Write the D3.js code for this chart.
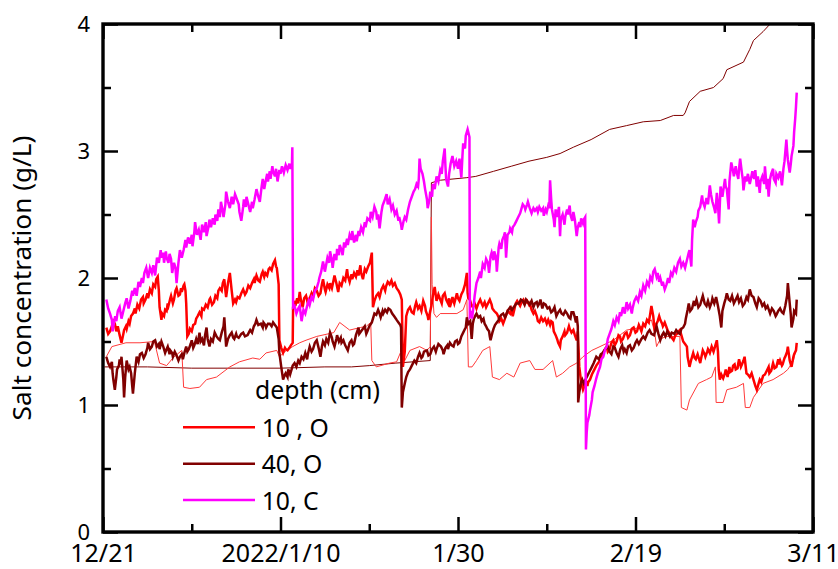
<!DOCTYPE html>
<html>
<head>
<meta charset="utf-8">
<script src="https://cdn.jsdelivr.net/npm/d3@7"></script>
<style>
  body { margin: 0; background: #fff; }
  text { font-family: "Noto Sans", sans-serif; fill: #000; }
</style>
</head>
<body>
<svg id="chart" width="838" height="569"></svg>
<script>
// days counted from 2021/12/21
const startDate = new Date(2021, 11, 21);
const xMajorDays = [0, 20, 40, 60, 80];
const xMajorLabels = ['12/21', '2022/1/10', '1/30', '2/19', '3/11'];
const xMinorDays = [10, 30, 50, 70];
const yMajor = [0, 1, 2, 3, 4];
const yMinor = [0.5, 1.5, 2.5, 3.5];

const legendNames = ['10 , O', '40, O', '10, C'];
const legendColors = ['#ff0000', '#800000', '#ff00ff'];

// 10 cm, C  [day, g/L]
const c10 = [[0.4,1.83],[0.6,1.76],[0.8,1.72],[1.0,1.67],[1.1,1.58],[1.2,1.62],[1.4,1.70],[1.5,1.66],[1.7,1.74],[1.9,1.77],[2.1,1.68],[2.3,1.74],[2.5,1.80],[2.7,1.84],[2.9,1.76],[3.1,1.82],[3.3,1.90],[3.4,1.86],[3.6,1.92],[3.8,1.86],[4.0,1.97],[4.2,1.93],[4.4,2.00],[4.5,1.96],[4.7,2.04],[4.9,2.08],[5.1,2.00],[5.3,2.08],[5.5,2.04],[5.7,2.10],[5.9,2.02],[6.1,2.16],[6.3,2.12],[6.5,2.22],[6.6,2.16],[6.8,2.20],[6.9,2.12],[7.1,2.21],[7.2,2.16],[7.4,2.12],[7.5,2.19],[7.7,2.15],[7.8,2.04],[8.0,2.12],[8.2,2.08],[8.3,1.96],[8.5,2.12],[8.7,2.22],[8.9,2.16],[9.1,2.22],[9.3,2.30],[9.4,2.24],[9.6,2.32],[9.8,2.27],[10.0,2.34],[10.1,2.25],[10.3,2.36],[10.4,2.44],[10.6,2.34],[10.8,2.38],[11.0,2.30],[11.2,2.42],[11.4,2.36],[11.6,2.44],[11.7,2.33],[11.9,2.40],[12.0,2.46],[12.2,2.40],[12.4,2.47],[12.6,2.42],[12.7,2.50],[12.9,2.45],[13.0,2.54],[13.2,2.48],[13.3,2.60],[13.5,2.52],[13.6,2.48],[13.8,2.58],[13.9,2.68],[14.1,2.60],[14.3,2.55],[14.5,2.64],[14.7,2.58],[14.9,2.66],[15.1,2.62],[15.3,2.58],[15.4,2.52],[15.6,2.45],[15.8,2.56],[15.9,2.62],[16.1,2.56],[16.2,2.64],[16.4,2.58],[16.6,2.52],[16.8,2.60],[16.9,2.55],[17.1,2.62],[17.3,2.70],[17.5,2.64],[17.7,2.60],[17.9,2.72],[18.0,2.78],[18.2,2.70],[18.3,2.75],[18.5,2.82],[18.6,2.76],[18.8,2.84],[18.9,2.78],[19.1,2.88],[19.2,2.84],[19.4,2.80],[19.5,2.86],[19.7,2.76],[19.9,2.85],[20.0,2.82],[20.2,2.88],[20.4,2.83],[20.6,2.89],[20.8,2.85],[21.0,2.90],[21.1,2.86],[21.3,2.90],[21.35,3.03],[21.4,2.35],[21.45,1.77],
  [21.6,1.78],[21.8,1.72],[22.0,1.76],[22.2,1.78],[22.4,1.66],[22.6,1.75],[22.8,1.72],[23.0,1.78],[23.2,1.82],[23.3,1.79],[23.5,1.85],[23.7,1.83],[23.9,1.90],[24.1,1.92],[24.3,1.97],[24.4,2.00],[24.6,2.05],[24.8,2.13],[25.0,2.05],[25.1,2.08],[25.3,2.16],[25.5,2.12],[25.6,2.21],[25.8,2.14],[25.9,2.08],[26.1,2.19],[26.3,2.14],[26.4,2.23],[26.6,2.18],[26.7,2.26],[26.9,2.22],[27.0,2.18],[27.2,2.28],[27.3,2.24],[27.5,2.31],[27.6,2.26],[27.8,2.34],[28.0,2.30],[28.1,2.37],[28.3,2.28],[28.5,2.34],[28.6,2.29],[28.8,2.37],[28.9,2.33],[29.1,2.40],[29.3,2.36],[29.5,2.44],[29.6,2.40],[29.8,2.47],[30.1,2.45],[30.2,2.52],[30.4,2.48],[30.6,2.56],[30.8,2.52],[30.9,2.46],[31.0,2.50],[31.2,2.39],[31.4,2.52],[31.5,2.57],[31.7,2.60],[31.97,2.66],[32.1,2.58],[32.3,2.62],[32.5,2.54],[32.7,2.57],[32.9,2.50],[33.1,2.53],[33.3,2.45],[33.4,2.48],[33.6,2.42],[33.7,2.38],[33.9,2.45],[34.0,2.48],[34.2,2.46],[34.4,2.54],[34.6,2.60],[34.8,2.64],[35.0,2.68],[35.2,2.70],[35.35,2.74],[35.5,2.72],[35.6,2.78],[35.7,2.94],[35.8,2.86],[36.0,2.82],[36.2,2.76],[36.3,2.70],[36.5,2.62],[36.6,2.55],[36.8,2.62],[36.9,2.68],[37.1,2.64],[37.2,2.74],[37.4,2.70],[37.6,2.80],[37.8,2.76],[38.0,2.85],[38.2,2.82],[38.3,2.92],[38.5,3.02],[38.6,2.88],[38.7,2.78],[38.9,2.72],[39.0,2.82],[39.2,2.90],[39.4,2.96],[39.6,2.88],[39.8,2.92],[40.0,2.86],[40.2,2.94],[40.4,2.79],[40.5,2.96],[40.6,3.06],[40.8,3.02],[40.9,3.12],[41.1,3.17],[41.3,3.11],[41.35,1.70],
  [41.5,1.72],[41.6,1.68],[41.8,1.80],[41.9,1.86],[42.1,1.96],[42.3,2.00],[42.5,2.05],[42.6,2.00],[42.8,2.11],[43.0,2.08],[43.2,2.15],[43.4,2.12],[43.5,2.04],[43.7,2.17],[43.8,2.20],[44.0,2.14],[44.1,2.21],[44.3,2.16],[44.4,2.05],[44.6,2.24],[44.7,2.27],[44.9,2.23],[45.0,2.30],[45.2,2.33],[45.3,2.36],[45.45,2.16],[45.6,2.34],[45.8,2.36],[45.9,2.39],[46.1,2.36],[46.2,2.40],[46.4,2.42],[46.6,2.45],[46.8,2.48],[47.0,2.51],[47.2,2.55],[47.3,2.58],[47.5,2.56],[47.6,2.54],[47.8,2.58],[47.9,2.60],[48.1,2.55],[48.3,2.51],[48.5,2.55],[48.7,2.53],[48.9,2.55],[49.0,2.52],[49.2,2.56],[49.4,2.53],[49.6,2.55],[49.7,2.49],[49.9,2.54],[50.0,2.52],[50.2,2.57],[50.3,2.55],[50.4,2.77],[50.5,2.62],[50.6,2.54],[50.8,2.46],[50.9,2.40],[51.0,2.54],[51.2,2.48],[51.4,2.56],[51.5,2.33],[51.6,2.46],[51.8,2.50],[52.0,2.42],[52.1,2.48],[52.3,2.54],[52.4,2.50],[52.6,2.57],[52.7,2.50],[52.9,2.45],[53.0,2.52],[53.2,2.46],[53.4,2.33],[53.5,2.40],[53.7,2.44],[53.8,2.40],[53.9,2.47],[54.1,2.43],[54.2,2.46],[54.35,2.48],[54.42,0.65],
  [54.5,0.78],[54.6,0.86],[54.8,0.92],[54.9,0.96],[55.1,1.04],[55.2,1.10],[55.4,1.15],[55.6,1.21],[55.8,1.26],[56.0,1.30],[56.2,1.36],[56.4,1.38],[56.6,1.44],[56.75,1.46],[56.9,1.52],[57.1,1.56],[57.3,1.60],[57.5,1.66],[57.7,1.63],[57.9,1.69],[58.1,1.66],[58.25,1.73],[58.4,1.70],[58.6,1.77],[58.8,1.72],[59.0,1.81],[59.2,1.76],[59.4,1.79],[59.6,1.72],[59.7,1.76],[59.9,1.82],[60.1,1.85],[60.3,1.82],[60.5,1.89],[60.7,1.86],[60.9,1.94],[61.1,1.90],[61.3,1.97],[61.5,1.94],[61.7,2.01],[61.9,1.98],[62.0,2.05],[62.2,2.07],[62.4,2.01],[62.5,2.04],[62.7,1.97],[62.8,2.00],[63.0,1.94],[63.1,1.97],[63.3,1.91],[63.5,1.95],[63.7,2.00],[63.8,1.96],[64.0,2.04],[64.2,2.02],[64.4,2.08],[64.6,2.05],[64.8,2.12],[65.0,2.15],[65.2,2.09],[65.4,2.12],[65.6,2.08],[65.8,2.14],[66.0,2.20],[66.1,2.22],[66.3,2.09],[66.4,2.30],[66.5,2.46],[66.7,2.40],[66.8,2.44],[67.0,2.48],[67.1,2.53],[67.3,2.56],[67.5,2.65],[67.6,2.60],[67.8,2.56],[68.0,2.63],[68.2,2.58],[68.4,2.73],[68.5,2.66],[68.7,2.60],[68.9,2.55],[69.0,2.51],[69.2,2.67],[69.3,2.58],[69.44,2.43],[69.6,2.72],[69.8,2.64],[69.9,2.68],[70.1,2.78],[70.2,2.72],[70.3,2.70],[70.5,2.54],[70.6,2.76],[70.8,2.91],[71.0,2.84],[71.1,2.80],[71.3,2.88],[71.4,2.84],[71.6,2.78],[71.7,2.86],[71.8,2.94],[72.0,2.82],[72.1,2.78],[72.2,2.69],[72.4,2.80],[72.5,2.76],[72.7,2.82],[72.9,2.74],[73.0,2.78],[73.2,2.84],[73.4,2.78],[73.5,2.85],[73.7,2.72],[73.8,2.80],[74.0,2.67],[74.1,2.76],[74.3,2.80],[74.5,2.74],[74.6,2.88],[74.8,2.70],[74.9,2.78],[75.0,2.64],[75.2,2.78],[75.3,2.82],[75.5,2.86],[75.6,2.78],[75.8,2.75],[75.9,2.82],[76.1,2.79],[76.3,2.84],[76.5,2.73],[76.7,2.86],[76.8,2.92],[77.0,3.09],[77.1,3.00],[77.2,2.93],[77.4,2.83],[77.5,2.90],[77.6,2.96],[77.8,3.04],[77.9,3.15],[78.0,3.26],[78.1,3.35],[78.2,3.46]];

// 10 cm, O
const o10 = [[0.4,1.61],[0.6,1.56],[0.8,1.58],[1.0,1.62],[1.2,1.66],[1.35,1.64],[1.5,1.58],[1.7,1.62],[1.9,1.55],[2.1,1.49],[2.3,1.56],[2.4,1.59],[2.6,1.62],[2.7,1.60],[2.9,1.66],[3.0,1.64],[3.2,1.70],[3.4,1.72],[3.6,1.76],[3.7,1.72],[3.9,1.79],[4.1,1.76],[4.3,1.83],[4.5,1.85],[4.6,1.80],[4.8,1.83],[5.0,1.88],[5.1,1.84],[5.3,1.91],[5.5,1.88],[5.7,1.95],[5.9,1.93],[6.0,1.99],[6.2,2.01],[6.3,1.90],[6.4,1.77],[6.6,1.67],[6.7,1.72],[6.9,1.70],[7.0,1.75],[7.2,1.74],[7.3,1.80],[7.4,1.78],[7.6,1.84],[7.7,1.86],[7.9,1.80],[8.0,1.83],[8.2,1.90],[8.3,1.92],[8.5,1.86],[8.7,1.87],[8.8,1.92],[8.9,1.89],[9.1,1.94],[9.2,1.95],[9.3,1.90],[9.4,1.80],[9.5,1.54],[9.7,1.56],[9.8,1.60],[10.0,1.58],[10.2,1.63],[10.4,1.64],[10.5,1.68],[10.7,1.70],[10.9,1.73],[11.1,1.70],[11.2,1.76],[11.4,1.75],[11.6,1.79],[11.8,1.77],[12.0,1.83],[12.1,1.84],[12.3,1.79],[12.5,1.81],[12.7,1.86],[12.9,1.84],[13.0,1.90],[13.2,1.92],[13.4,1.90],[13.5,1.96],[13.7,1.99],[13.8,1.90],[13.9,1.85],[14.1,1.96],[14.3,2.04],[14.5,1.90],[14.7,1.80],[14.9,1.83],[15.0,1.81],[15.2,1.85],[15.4,1.84],[15.6,1.88],[15.8,1.91],[16.0,1.87],[16.2,1.89],[16.4,1.94],[16.6,1.92],[16.8,1.96],[17.0,1.99],[17.1,1.96],[17.3,2.02],[17.5,1.98],[17.7,1.97],[17.9,2.03],[18.0,2.05],[18.2,2.01],[18.3,2.04],[18.5,2.02],[18.7,2.07],[18.8,2.08],[19.0,2.06],[19.2,2.11],[19.4,2.14],[19.5,2.09],[19.6,2.08],[19.8,1.95],[19.9,1.51],[20.1,1.45],[20.3,1.41],[20.5,1.45],[20.6,1.44],[20.8,1.43],[21.0,1.45],[21.2,1.47],[21.4,1.49],[21.45,1.77],
  [21.6,1.82],[21.7,1.78],[21.9,1.84],[22.0,1.80],[22.2,1.89],[22.3,1.83],[22.5,1.77],[22.7,1.84],[22.9,1.86],[23.1,1.80],[23.3,1.84],[23.5,1.88],[23.7,1.85],[23.9,1.92],[24.1,1.90],[24.3,1.86],[24.5,1.88],[24.7,1.95],[24.8,1.99],[25.0,1.91],[25.1,1.89],[25.3,1.95],[25.5,1.92],[25.6,1.96],[25.8,1.92],[26.0,1.99],[26.1,2.02],[26.3,1.96],[26.5,1.89],[26.7,1.96],[26.9,1.94],[27.1,2.00],[27.3,1.98],[27.5,2.07],[27.6,2.02],[27.8,1.97],[28.0,2.03],[28.1,1.99],[28.3,2.04],[28.5,2.01],[28.7,2.06],[28.8,2.02],[29.0,2.10],[29.1,2.04],[29.3,1.99],[29.5,2.07],[29.7,2.05],[29.9,2.09],[30.1,2.12],[30.3,2.20],[30.45,1.77],[30.6,1.82],[30.8,1.86],[31.0,1.88],[31.2,1.85],[31.4,1.91],[31.6,1.94],[31.8,1.90],[31.9,1.93],[32.1,1.97],[32.3,1.95],[32.5,1.98],[32.7,1.94],[32.9,1.96],[33.1,1.92],[33.3,1.90],[33.5,1.87],[33.7,1.83],[33.8,1.30],[33.9,1.35],[34.0,1.42],[34.2,1.70],[34.4,1.75],[34.6,1.77],[34.8,1.73],[35.0,1.72],[35.2,1.78],[35.3,1.81],[35.5,1.76],[35.7,1.78],[35.9,1.74],[36.1,1.82],[36.3,1.78],[36.4,1.74],[36.6,1.70],[36.7,1.67],[36.9,1.74],[37.0,1.78],[37.2,1.86],[37.4,1.93],[37.5,1.86],[37.6,1.82],[37.8,1.87],[38.0,1.83],[38.2,1.80],[38.3,1.86],[38.5,1.88],[38.7,1.83],[38.9,1.80],[39.0,1.84],[39.1,1.77],[39.3,1.82],[39.4,1.85],[39.6,1.80],[39.9,1.88],[40.0,1.84],[40.2,1.82],[40.4,1.87],[40.6,1.90],[40.8,1.95],[41.0,2.04],[41.1,1.88],[41.2,1.84],[41.35,1.83],[41.5,1.79],[41.7,1.77],[41.9,1.80],[42.1,1.76],[42.3,1.80],[42.5,1.83],[42.7,1.80],[42.8,1.78],[43.0,1.81],[43.2,1.77],[43.4,1.80],[43.6,1.83],[43.8,1.79],[43.9,1.76],[44.1,1.74],[44.4,1.72],[44.6,1.69],[44.7,1.66],[44.9,1.68],[45.1,1.64],[45.3,1.68],[45.4,1.70],[45.6,1.74],[45.9,1.72],[46.0,1.75],[46.2,1.70],[46.4,1.76],[46.5,1.80],[46.7,1.82],[47.0,1.78],[47.2,1.81],[47.4,1.83],[47.6,1.80],[47.8,1.82],[48.0,1.79],[48.1,1.80],[48.3,1.75],[48.5,1.72],[48.7,1.74],[48.9,1.70],[49.0,1.66],[49.2,1.65],[49.4,1.69],[49.6,1.66],[49.8,1.68],[50.0,1.64],[50.2,1.67],[50.4,1.63],[50.5,1.66],[50.7,1.65],[50.8,1.58],[51.0,1.55],[51.2,1.52],[51.3,1.49],[51.5,1.46],[51.6,1.51],[51.8,1.54],[52.0,1.58],[52.1,1.55],[52.3,1.57],[52.5,1.62],[52.6,1.60],[52.8,1.57],[53.0,1.59],[53.2,1.55],[53.4,1.51],[53.5,1.58],[53.7,1.30],[53.9,1.18],[54.1,1.12],[54.3,1.16],[54.4,1.20],[54.6,1.15],[54.7,1.18],[54.9,1.20],
  [55.1,1.24],[55.4,1.28],[55.6,1.31],[55.8,1.33],[56.0,1.35],[56.2,1.39],[56.3,1.40],[56.5,1.43],[56.75,1.46],[56.9,1.42],[57.1,1.44],[57.3,1.49],[57.5,1.51],[57.7,1.47],[57.9,1.50],[58.1,1.55],[58.25,1.54],[58.4,1.50],[58.6,1.52],[58.8,1.56],[59.0,1.57],[59.2,1.53],[59.4,1.55],[59.6,1.60],[59.8,1.61],[60.0,1.57],[60.2,1.58],[60.4,1.63],[60.5,1.61],[60.7,1.58],[60.9,1.64],[61.1,1.62],[61.3,1.67],[61.5,1.65],[61.7,1.72],[61.8,1.78],[62.0,1.70],[62.2,1.58],[62.3,1.63],[62.5,1.66],[62.7,1.70],[62.8,1.67],[63.0,1.64],[63.1,1.62],[63.3,1.65],[63.5,1.61],[63.7,1.58],[63.9,1.56],[64.1,1.53],[64.3,1.51],[64.5,1.55],[64.7,1.56],[64.9,1.58],[65.0,1.59],[65.2,1.55],[65.4,1.50],[65.6,1.48],[65.8,1.46],[65.9,1.38],[66.1,1.30],[66.3,1.36],[66.5,1.41],[66.7,1.37],[66.8,1.36],[67.0,1.40],[67.1,1.38],[67.3,1.33],[67.4,1.36],[67.6,1.43],[67.8,1.40],[67.9,1.38],[68.1,1.42],[68.2,1.44],[68.4,1.41],[68.6,1.46],[68.8,1.42],[69.0,1.47],[69.2,1.51],[69.3,1.42],[69.4,1.28],[69.5,1.20],[69.7,1.24],[69.9,1.21],[70.1,1.25],[70.2,1.28],[70.4,1.22],[70.6,1.30],[70.7,1.26],[70.9,1.27],[71.0,1.31],[71.2,1.32],[71.3,1.28],[71.5,1.29],[71.6,1.33],[71.7,1.36],[71.9,1.30],[72.0,1.32],[72.2,1.35],[72.3,1.38],[72.5,1.25],[72.7,1.24],[72.9,1.22],[73.1,1.25],[73.3,1.20],[73.5,1.15],[73.7,1.12],[73.9,1.17],[74.0,1.20],[74.2,1.18],[74.4,1.23],[74.6,1.24],[74.8,1.27],[75.0,1.30],[75.1,1.25],[75.3,1.27],[75.5,1.33],[75.7,1.29],[75.9,1.30],[76.1,1.36],[76.2,1.32],[76.3,1.35],[76.5,1.31],[76.6,1.32],[76.8,1.37],[76.9,1.38],[77.1,1.42],[77.2,1.46],[77.4,1.35],[77.6,1.30],[77.8,1.38],[77.9,1.40],[78.1,1.43],[78.2,1.49]];

// 40 cm, O
const o40 = [[0.4,1.38],[0.6,1.33],[0.8,1.30],[1.0,1.34],[1.1,1.25],[1.2,1.20],[1.35,1.12],[1.5,1.22],[1.6,1.28],[1.8,1.31],[1.9,1.36],[2.0,1.32],[2.1,1.38],[2.3,1.20],[2.4,1.06],[2.5,1.22],[2.7,1.35],[2.9,1.28],[3.0,1.30],[3.2,1.25],[3.3,1.15],[3.4,1.09],[3.6,1.25],[3.8,1.38],[4.0,1.34],[4.2,1.40],[4.4,1.41],[4.6,1.37],[4.8,1.40],[5.0,1.45],[5.1,1.49],[5.3,1.44],[5.5,1.46],[5.7,1.50],[5.9,1.51],[6.1,1.46],[6.3,1.48],[6.4,1.44],[6.6,1.50],[6.8,1.46],[7.0,1.41],[7.2,1.44],[7.3,1.46],[7.5,1.40],[7.6,1.43],[7.8,1.41],[7.9,1.38],[8.1,1.42],[8.3,1.39],[8.5,1.35],[8.7,1.38],[8.9,1.40],[9.0,1.36],[9.2,1.41],[9.4,1.46],[9.5,1.42],[9.7,1.44],[9.9,1.48],[10.0,1.51],[10.2,1.45],[10.3,1.47],[10.5,1.52],[10.7,1.48],[10.9,1.57],[11.0,1.50],[11.2,1.52],[11.4,1.47],[11.5,1.55],[11.7,1.61],[11.8,1.52],[12.0,1.46],[12.2,1.52],[12.4,1.50],[12.6,1.57],[12.8,1.54],[13.0,1.52],[13.2,1.51],[13.4,1.57],[13.6,1.62],[13.7,1.69],[13.8,1.55],[13.9,1.46],[14.1,1.52],[14.3,1.55],[14.5,1.57],[14.7,1.53],[14.8,1.52],[15.0,1.56],[15.1,1.54],[15.3,1.53],[15.6,1.56],[15.8,1.57],[16.0,1.54],[16.3,1.55],[16.5,1.58],[16.6,1.59],[16.8,1.57],[17.0,1.62],[17.2,1.64],[17.3,1.67],[17.5,1.63],[17.8,1.64],[18.0,1.61],[18.1,1.65],[18.3,1.63],[18.4,1.61],[18.6,1.64],[18.8,1.64],[19.0,1.62],[19.2,1.65],[19.4,1.63],[19.6,1.61],[19.8,1.52],[19.9,1.41],[20.1,1.30],[20.3,1.20],[20.5,1.24],[20.6,1.25],[20.8,1.22],[20.9,1.28],[21.1,1.24],[21.2,1.26],[21.4,1.31],[21.6,1.33],[21.8,1.30],[22.0,1.35],[22.2,1.33],[22.4,1.38],[22.6,1.36],[22.8,1.41],[23.0,1.36],[23.1,1.40],[23.3,1.46],[23.5,1.42],[23.7,1.44],[23.9,1.49],[24.1,1.51],[24.3,1.45],[24.5,1.38],[24.7,1.46],[24.8,1.50],[25.0,1.47],[25.2,1.52],[25.4,1.49],[25.6,1.57],[25.8,1.53],[25.9,1.50],[26.1,1.46],[26.3,1.52],[26.4,1.55],[26.6,1.50],[26.8,1.53],[26.9,1.49],[27.1,1.51],[27.3,1.47],[27.6,1.43],[27.8,1.49],[28.0,1.51],[28.2,1.47],[28.3,1.48],[28.5,1.55],[28.8,1.61],[28.9,1.56],[29.1,1.58],[29.3,1.60],[29.5,1.62],[29.7,1.56],[29.8,1.58],[30.0,1.62],[30.3,1.65],[30.5,1.70],[30.6,1.72],[30.8,1.71],[31.0,1.75],[31.2,1.72],[31.3,1.69],[31.5,1.74],[31.6,1.72],[31.8,1.75],[32.0,1.73],[32.2,1.76],[32.4,1.75],[32.6,1.72],[32.8,1.70],[33.0,1.68],[33.1,1.67],[33.3,1.65],[33.5,1.63],[33.6,1.61],[33.7,0.98],
  [33.8,1.10],[34.0,1.17],[34.2,1.22],[34.4,1.26],[34.6,1.28],[34.8,1.31],[35.1,1.35],[35.3,1.33],[35.5,1.38],[35.7,1.41],[35.9,1.37],[36.0,1.38],[36.2,1.42],[36.5,1.43],[36.7,1.39],[36.9,1.40],[37.1,1.44],[37.3,1.46],[37.5,1.42],[37.6,1.44],[37.8,1.48],[38.1,1.46],[38.3,1.43],[38.4,1.40],[38.6,1.45],[38.8,1.47],[38.9,1.44],[39.1,1.49],[39.3,1.47],[39.5,1.46],[39.7,1.50],[39.9,1.51],[40.0,1.48],[40.2,1.49],[40.4,1.54],[40.6,1.57],[40.8,1.60],[40.9,1.61],[41.0,1.69],[41.2,1.64],[41.4,1.66],[41.55,1.52],[41.7,1.64],[41.8,1.68],[42.0,1.71],[42.1,1.72],[42.3,1.69],[42.5,1.70],[42.7,1.66],[42.9,1.68],[43.0,1.64],[43.2,1.62],[43.3,1.60],[43.5,1.58],[43.6,1.54],[43.7,1.51],[43.9,1.57],[44.0,1.60],[44.2,1.63],[44.4,1.65],[44.6,1.67],[44.7,1.69],[44.9,1.71],[45.1,1.72],[45.3,1.69],[45.4,1.70],[45.6,1.74],[45.9,1.77],[46.1,1.75],[46.4,1.78],[46.6,1.80],[46.9,1.80],[47.1,1.83],[47.3,1.82],[47.5,1.79],[47.7,1.83],[47.9,1.81],[48.1,1.79],[48.3,1.82],[48.5,1.77],[48.7,1.80],[48.9,1.81],[49.0,1.78],[49.2,1.80],[49.3,1.83],[49.5,1.76],[49.7,1.80],[49.9,1.79],[50.1,1.76],[50.3,1.77],[50.5,1.73],[50.7,1.74],[50.9,1.77],[51.1,1.70],[51.3,1.73],[51.5,1.75],[51.7,1.72],[51.9,1.71],[52.1,1.74],[52.3,1.72],[52.5,1.69],[52.7,1.68],[52.8,1.73],[53.0,1.73],[53.2,1.69],[53.3,1.65],[53.4,1.70],[53.5,1.62],[53.55,1.02],
  [53.7,1.10],[53.9,1.18],[54.0,1.20],[54.2,1.17],[54.5,1.22],[54.8,1.26],[55.1,1.30],[55.3,1.33],[55.6,1.38],[55.9,1.36],[56.1,1.40],[56.3,1.41],[56.6,1.44],[56.9,1.46],[57.1,1.42],[57.3,1.40],[57.5,1.46],[57.7,1.45],[57.9,1.41],[58.1,1.38],[58.3,1.44],[58.5,1.47],[58.7,1.42],[58.8,1.44],[59.0,1.41],[59.2,1.46],[59.4,1.47],[59.6,1.43],[59.8,1.45],[60.0,1.49],[60.2,1.51],[60.4,1.48],[60.7,1.52],[60.9,1.54],[61.1,1.52],[61.4,1.57],[61.6,1.59],[61.8,1.56],[62.1,1.55],[62.3,1.60],[62.4,1.62],[62.6,1.56],[62.8,1.51],[63.0,1.55],[63.2,1.57],[63.4,1.54],[63.6,1.58],[63.9,1.54],[64.1,1.57],[64.4,1.56],[64.6,1.59],[64.8,1.57],[65.0,1.56],[65.2,1.60],[65.4,1.61],[65.6,1.64],[65.7,1.68],[65.9,1.75],[66.0,1.80],[66.2,1.74],[66.4,1.76],[66.6,1.82],[66.7,1.78],[66.9,1.83],[67.1,1.77],[67.3,1.79],[67.5,1.84],[67.6,1.86],[67.8,1.80],[68.0,1.78],[68.2,1.82],[68.4,1.77],[68.6,1.81],[68.7,1.84],[68.9,1.80],[69.1,1.85],[69.3,1.78],[69.5,1.70],[69.7,1.61],[69.8,1.74],[70.0,1.80],[70.2,1.84],[70.3,1.88],[70.5,1.83],[70.7,1.82],[70.9,1.86],[71.1,1.80],[71.3,1.83],[71.5,1.86],[71.7,1.81],[71.9,1.84],[72.1,1.78],[72.3,1.80],[72.5,1.85],[72.7,1.83],[72.9,1.91],[73.1,1.86],[73.3,1.85],[73.5,1.80],[73.7,1.77],[73.9,1.84],[74.1,1.82],[74.3,1.78],[74.5,1.80],[74.7,1.76],[74.9,1.78],[75.2,1.72],[75.4,1.76],[75.6,1.74],[75.8,1.70],[75.9,1.71],[76.1,1.74],[76.3,1.76],[76.5,1.73],[76.7,1.72],[76.9,1.78],[77.1,1.86],[77.2,1.96],[77.4,1.80],[77.5,1.71],[77.6,1.61],[77.8,1.68],[77.9,1.74],[78.1,1.72],[78.2,1.83]];

// thin red line (no key)
const o10b = [[0.4,1.38],[1.0,1.46],[2.6,1.49],[4.2,1.49],[5.8,1.50],[6.4,1.33],[7.2,1.31],[7.9,1.37],[8.9,1.43],[9.1,1.14],[9.8,1.13],[10.9,1.14],[11.7,1.20],[12.8,1.22],[14.3,1.30],[15.4,1.34],[16.9,1.37],[17.7,1.36],[18.4,1.41],[19.6,1.43],[19.9,1.38],[20.7,1.43],[21.4,1.46],[22.2,1.49],[22.9,1.51],[24.1,1.54],[26.0,1.57],[26.7,1.65],[27.8,1.59],[29.0,1.61],[29.7,1.62],[30.2,1.65],[30.3,1.35],[30.8,1.30],[32.3,1.33],[33.1,1.34],[33.5,1.41],[34.0,1.35],[34.6,1.43],[35.7,1.46],[36.5,1.43],[36.9,1.46],[37.0,2.48],[37.1,1.95],[37.3,1.72],[37.6,1.69],[38.0,1.72],[39.9,1.72],[40.6,1.75],[41.0,1.83],[41.2,1.30],[41.6,1.30],[42.1,1.35],[42.8,1.43],[43.6,1.46],[43.9,1.22],[44.7,1.20],[45.5,1.25],[46.3,1.22],[47.0,1.33],[48.1,1.35],[48.7,1.28],[49.6,1.28],[50.7,1.35],[51.1,1.22],[51.8,1.25],[52.6,1.30],[53.4,1.33],[54.1,1.38],[55.1,1.43],[56.0,1.46],[57.5,1.51],[59.0,1.59],[60.5,1.61],[61.8,1.67],[62.2,1.57],[62.4,1.46],[62.8,1.52],[63.5,1.54],[65.0,1.54],[65.2,0.98],[65.8,0.96],[66.1,1.04],[67.1,1.17],[68.0,1.20],[68.6,1.22],[69.0,1.30],[69.1,1.02],[69.9,1.02],[70.3,1.12],[71.4,1.14],[72.2,1.17],[72.4,0.98],[72.9,0.98],[73.3,1.06],[74.4,1.17],[75.5,1.20],[76.7,1.25],[77.2,1.28],[77.8,1.35],[78.2,1.46]];

// thin dark red line (no key)
const o40b = [[0.2,1.30],[5,1.30],[10,1.29],[15,1.29],[20,1.29],[25,1.30],[28,1.30],[30,1.31],[33,1.33],[36.9,1.35],[37.0,2.75],[38.0,2.77],[41,2.79],[42.0,2.80],[44.0,2.84],[46.0,2.88],[48.0,2.92],[50.0,2.95],[51.5,2.98],[53.0,3.03],[55.0,3.09],[57.1,3.17],[59.0,3.20],[60.9,3.23],[62.8,3.24],[64.3,3.28],[65.4,3.28],[65.6,3.30],[66.1,3.39],[67.3,3.47],[68.8,3.50],[69.9,3.57],[70.3,3.64],[72.2,3.70],[72.9,3.80],[73.3,3.87],[74.4,3.94],[75.2,4.00],[76,4.08]];

const W = 838, H = 569;
const margin = { top: 24, right: 25, bottom: 37, left: 103 };
const iw = W - margin.left - margin.right;
const ih = H - margin.top - margin.bottom;

const toDate = d => d3.timeHour.offset(startDate, d * 24);

const x = d3.scaleTime().domain([startDate, toDate(80)]).range([0, iw]);
const y = d3.scaleLinear().domain([0, 4]).range([ih, 0]);

const svg = d3.select('#chart');
const g = svg.append('g').attr('transform', `translate(${margin.left},${margin.top})`);

// font size that makes a text as wide as the reference shows it
function fitSize(sel, width) {
  const len = sel.node().getComputedTextLength();
  const fs = parseFloat(sel.style('font-size'));
  return fs * width / len;
}

g.append('clipPath').attr('id', 'clip')
  .append('rect').attr('width', iw).attr('height', ih);

const line = d3.line()
  .x(d => x(toDate(d[0])))
  .y(d => y(d[1]));

const plot = g.append('g').attr('clip-path', 'url(#clip)');
const series = [
  { data: o40b, color: '#800000', w: 1 },
  { data: o10b, color: '#ff3a3a', w: 1 },
  { data: o10,  color: '#ff0000', w: 2.5 },
  { data: o40,  color: '#800000', w: 2.5 },
  { data: c10,  color: '#ff00ff', w: 2.5 }
];
plot.selectAll('path.series')
  .data(series)
  .enter()
  .append('path')
  .attr('class', 'series')
  .attr('d', d => line(d.data))
  .attr('fill', 'none')
  .attr('stroke', d => d.color)
  .attr('stroke-width', d => d.w);

/* axes: ticks point inward on all four sides */
const majorDates = xMajorDays.map(toDate);
const minorDates = xMinorDays.map(toDate);

function styleAxis(sel) {
  sel.select('.domain').remove();
  sel.selectAll('line').attr('stroke', '#000').attr('stroke-width', 2.5);
  sel.selectAll('text').style('font-size', '22px').attr('fill', '#000');
}

const xLabels = g.append('g').attr('transform', `translate(0,${ih})`)
  .call(d3.axisBottom(x).tickValues(majorDates).tickSize(-15)
    .tickFormat((d, i) => xMajorLabels[i]))
  .call(styleAxis)
  .selectAll('text')
  .attr('dy', null)
  .attr('y', 30);
const xFont = fitSize(xLabels.filter((d, i) => i === 1), 119);
xLabels.style('font-size', xFont + 'px');

g.append('g').attr('transform', `translate(0,${ih})`)
  .call(d3.axisBottom(x).tickValues(minorDates).tickSize(-8).tickFormat(''))
  .call(styleAxis);
g.append('g')
  .call(d3.axisTop(x).tickValues(majorDates).tickSize(-15).tickFormat(''))
  .call(styleAxis);
g.append('g')
  .call(d3.axisTop(x).tickValues(minorDates).tickSize(-8).tickFormat(''))
  .call(styleAxis);

g.append('g')
  .call(d3.axisLeft(y).tickValues(yMajor).tickSize(-15).tickPadding(13).tickFormat(d3.format('d')))
  .call(styleAxis);
g.append('g')
  .call(d3.axisLeft(y).tickValues(yMinor).tickSize(-8).tickFormat(''))
  .call(styleAxis);
g.append('g').attr('transform', `translate(${iw},0)`)
  .call(d3.axisRight(y).tickValues(yMajor).tickSize(-15).tickFormat(''))
  .call(styleAxis);
g.append('g').attr('transform', `translate(${iw},0)`)
  .call(d3.axisRight(y).tickValues(yMinor).tickSize(-8).tickFormat(''))
  .call(styleAxis);

g.append('rect')
  .attr('width', iw).attr('height', ih)
  .attr('fill', 'none').attr('stroke', '#000').attr('stroke-width', 3.4);

const yTitle = svg.append('text')
  .attr('transform', `translate(31,${margin.top + ih / 2}) rotate(-90)`)
  .attr('text-anchor', 'middle')
  .style('font-size', '22px')
  .text('Salt concentration (g/L)');
yTitle.style('font-size', fitSize(yTitle, 285) + 'px');

/* legend */
const legend = g.append('g').attr('transform', 'translate(80,0)');
const legendTitle = legend.append('text')
  .attr('x', 72).attr('y', 375)
  .style('font-size', '24px')
  .text('depth (cm)');
const legendFont = fitSize(legendTitle, 125);
legendTitle.style('font-size', legendFont + 'px');

const items = legend.selectAll('g.item')
  .data(legendNames)
  .enter()
  .append('g')
  .attr('class', 'item')
  .attr('transform', (d, i) => `translate(0,${403.3 + i * 36.4})`);
items.append('line')
  .attr('x1', 0).attr('x2', 72)
  .attr('stroke', (d, i) => legendColors[i])
  .attr('stroke-width', 2.5);
items.append('text')
  .attr('x', 78.7).attr('y', 9.4)
  .style('font-size', legendFont + 'px')
  .text(d => d);
</script>
</body>
</html>
